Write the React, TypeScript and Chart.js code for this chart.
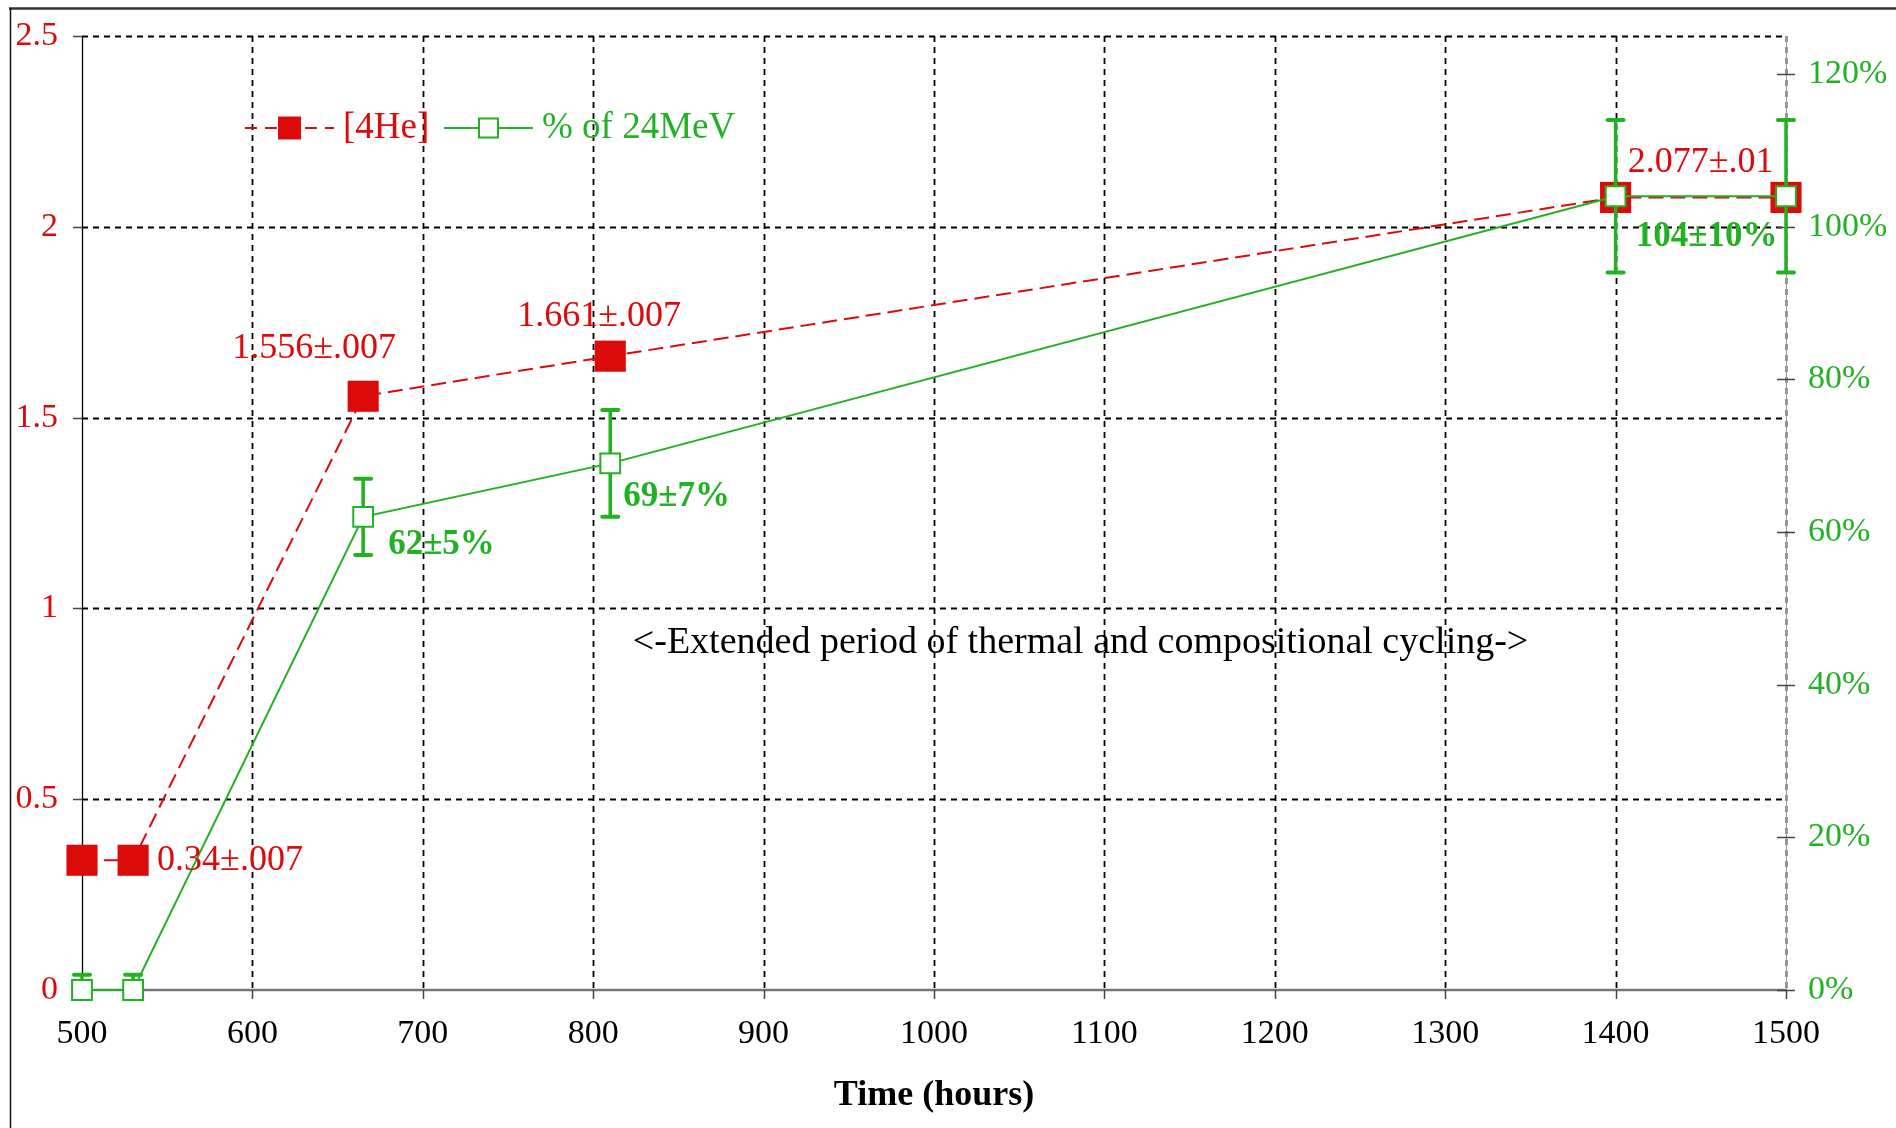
import React, { useEffect, useRef } from "react";
import { Chart, registerables } from "chart.js";

Chart.register(...registerables);

// ---- data ----
const hours = [500, 530, 665, 810, 1400, 1500];
const helium = [0.34, 0.34, 1.556, 1.661, 2.077, 2.077];
const percent24 = [0, 0, 62, 69, 104, 104];
const percentErr = [2, 2, 5, 7, 10, 10];
const heliumLabels = ["", "0.34±.007", "1.556±.007", "1.661±.007", "2.077±.01", ""];
const percentLabels = ["", "", "62±5%", "69±7%", "104±10%", ""];
const noteText = "<-Extended period of thermal and compositional cycling->";
const noteAt = { x: 1086, y: 0.91 };
const legendLabels = ["[4He]", "% of 24MeV"];
const xTitle = "Time (hours)";

// ---- styles ----
const RED = "#dc0a0a";
const GREEN = "#22b122";
const FONT = "'Liberation Serif', 'Times New Roman', serif";

// label offsets (px) relative to their data point
const heliumLabelPos = [
  null,
  { dx: 24, dy: 0, align: "left" },
  { dx: -49, dy: -48, align: "center" },
  { dx: -11, dy: -40, align: "center" },
  { dx: 85, dy: -35, align: "center" },
  null,
];
const percentLabelPos = [
  null,
  null,
  { dx: 25, dy: 28, align: "left" },
  { dx: 13, dy: 34, align: "left" },
  { dx: 91, dy: 41, align: "center" },
  null,
];

const framePlugin = {
  id: "frame",
  beforeDraw(chart: any) {
    const ctx = chart.ctx;
    ctx.save();
    ctx.strokeStyle = "#333";
    ctx.lineWidth = 2.5;
    ctx.beginPath();
    ctx.moveTo(9, 8.5);
    ctx.lineTo(chart.width, 8.5);
    ctx.stroke();
    ctx.strokeStyle = "#111";
    ctx.lineWidth = 1.5;
    ctx.beginPath();
    ctx.moveTo(10.5, 8);
    ctx.lineTo(10.5, chart.height);
    ctx.stroke();
    ctx.restore();
  },
};

const gridPlugin = {
  id: "customGrid",
  beforeDatasetsDraw(chart: any) {
    const { ctx, chartArea: a, scales } = chart;
    const xs = scales.x, ys = scales.y, y1 = scales.y1;
    ctx.save();
    // dashed grid
    ctx.strokeStyle = "#000";
    ctx.lineWidth = 1.8;
    ctx.setLineDash([6, 5]);
    xs.ticks.forEach((t: any) => {
      if (t.value === xs.min) return;
      const px = Math.round(xs.getPixelForValue(t.value)) + 0.5;
      ctx.beginPath();
      ctx.moveTo(px, a.top);
      ctx.lineTo(px, a.bottom);
      ctx.stroke();
    });
    ys.ticks.forEach((t: any) => {
      if (t.value === ys.min) return;
      const py = Math.round(ys.getPixelForValue(t.value)) + 0.5;
      ctx.beginPath();
      ctx.moveTo(a.left, py);
      ctx.lineTo(a.right, py);
      ctx.stroke();
    });
    ctx.setLineDash([]);
    // axis lines
    ctx.strokeStyle = "#000";
    ctx.lineWidth = 1.3;
    ctx.beginPath();
    ctx.moveTo(a.left + 0.5, a.top);
    ctx.lineTo(a.left + 0.5, a.bottom);
    ctx.stroke();
    ctx.strokeStyle = "#999";
    ctx.lineWidth = 1;
    ctx.beginPath();
    ctx.moveTo(a.right + 0.5, a.top);
    ctx.lineTo(a.right + 0.5, a.bottom);
    ctx.stroke();
    ctx.strokeStyle = "#777";
    ctx.lineWidth = 2.5;
    ctx.beginPath();
    ctx.moveTo(a.left, a.bottom);
    ctx.lineTo(a.right, a.bottom);
    ctx.stroke();
    // tick marks
    ctx.strokeStyle = "#444";
    ctx.lineWidth = 1.5;
    ys.ticks.forEach((t: any) => {
      const py = Math.round(ys.getPixelForValue(t.value)) + 0.5;
      ctx.beginPath();
      ctx.moveTo(a.left - 9, py);
      ctx.lineTo(a.left, py);
      ctx.stroke();
    });
    xs.ticks.forEach((t: any) => {
      const px = Math.round(xs.getPixelForValue(t.value)) + 0.5;
      ctx.beginPath();
      ctx.moveTo(px, a.bottom);
      ctx.lineTo(px, a.bottom + 9);
      ctx.stroke();
    });
    y1.ticks.forEach((t: any) => {
      const py = Math.round(y1.getPixelForValue(t.value)) + 0.5;
      ctx.beginPath();
      ctx.moveTo(a.right - 9, py);
      ctx.lineTo(a.right + 9, py);
      ctx.stroke();
    });
    ctx.restore();
  },
  beforeDatasetDraw(chart: any, args: any) {
    if (args.index !== 1) return;
    const { ctx, chartArea: a, scales } = chart;
    const xs = scales.x, y1 = scales.y1;
    ctx.save();
    ctx.beginPath();
    ctx.rect(0, 0, chart.width, a.bottom);
    ctx.clip();
    ctx.strokeStyle = GREEN;
    ctx.lineCap = "round";
    hours.forEach((h, i) => {
      const px = xs.getPixelForValue(h);
      const top = y1.getPixelForValue(percent24[i] + percentErr[i]);
      const bot = y1.getPixelForValue(percent24[i] - percentErr[i]);
      ctx.lineWidth = 3.5;
      ctx.beginPath();
      ctx.moveTo(px, top);
      ctx.lineTo(px, bot);
      ctx.stroke();
      ctx.lineWidth = 4;
      [top, bot].forEach((yy) => {
        ctx.beginPath();
        ctx.moveTo(px - 8, yy);
        ctx.lineTo(px + 8, yy);
        ctx.stroke();
      });
    });
    ctx.restore();
  },
  afterDatasetsDraw(chart: any) {
    const { ctx, scales } = chart;
    const xs = scales.x, ys = scales.y, y1 = scales.y1;
    ctx.save();
    ctx.textBaseline = "middle";
    // red labels
    ctx.font = `36px ${FONT}`;
    ctx.fillStyle = RED;
    heliumLabels.forEach((txt, i) => {
      const p = heliumLabelPos[i];
      if (!txt || !p) return;
      ctx.textAlign = p.align as CanvasTextAlign;
      ctx.fillText(txt, xs.getPixelForValue(hours[i]) + p.dx, ys.getPixelForValue(helium[i]) + p.dy);
    });
    // green labels
    ctx.font = `bold 35px ${FONT}`;
    ctx.fillStyle = GREEN;
    percentLabels.forEach((txt, i) => {
      const p = percentLabelPos[i];
      if (!txt || !p) return;
      ctx.textAlign = p.align as CanvasTextAlign;
      ctx.fillText(txt, xs.getPixelForValue(hours[i]) + p.dx, y1.getPixelForValue(percent24[i]) + p.dy);
    });
    // note
    ctx.font = `38px ${FONT}`;
    ctx.fillStyle = "#000";
    ctx.textAlign = "center";
    ctx.fillText(noteText, xs.getPixelForValue(noteAt.x), ys.getPixelForValue(noteAt.y));

    // legend
    const ly = 128;
    ctx.lineWidth = 2;
    ctx.strokeStyle = RED;
    ctx.setLineDash([12, 8]);
    ctx.beginPath();
    ctx.moveTo(245, ly);
    ctx.lineTo(334, ly);
    ctx.stroke();
    ctx.setLineDash([]);
    ctx.fillStyle = RED;
    ctx.fillRect(278, ly - 11.5, 23, 23);
    ctx.font = `37px ${FONT}`;
    ctx.textAlign = "left";
    ctx.fillText(legendLabels[0], 343, ly);

    ctx.strokeStyle = GREEN;
    ctx.beginPath();
    ctx.moveTo(444, ly);
    ctx.lineTo(533, ly);
    ctx.stroke();
    ctx.fillStyle = "#fff";
    ctx.fillRect(479, ly - 9.5, 19, 19);
    ctx.strokeRect(479, ly - 9.5, 19, 19);
    ctx.fillStyle = GREEN;
    ctx.fillText(legendLabels[1], 542, ly);
    ctx.restore();
  },
};

export default function App() {
  const ref = useRef<HTMLCanvasElement>(null);
  useEffect(() => {
    if (!ref.current) return;
    const chart = new Chart(ref.current, {
      type: "line",
      data: {
        datasets: [
          {
            label: legendLabels[0],
            data: hours.map((x, i) => ({ x, y: helium[i] })),
            yAxisID: "y",
            borderColor: RED,
            borderWidth: 2,
            borderDash: [15, 7],
            pointStyle: "rect",
            pointRadius: 22,
            pointHoverRadius: 22,
            pointBackgroundColor: RED,
            pointBorderColor: RED,
            pointBorderWidth: 0,
            order: 2,
            clip: false,
          },
          {
            label: legendLabels[1],
            data: hours.map((x, i) => ({ x, y: percent24[i] })),
            yAxisID: "y1",
            borderColor: GREEN,
            borderWidth: 2,
            pointStyle: "rect",
            pointRadius: 14,
            pointHoverRadius: 14,
            pointBackgroundColor: "#fff",
            pointBorderColor: GREEN,
            pointBorderWidth: 2,
            order: 1,
            clip: false,
          },
        ] as any,
      },
      options: {
        animation: false,
        responsive: false,
        devicePixelRatio: 1,
        events: [],
        layout: { padding: { top: 36, left: 0, right: 0, bottom: 0 } },
        plugins: { legend: { display: false }, tooltip: { enabled: false } },
        scales: {
          x: {
            type: "linear",
            min: 500,
            max: 1500,
            ticks: {
              stepSize: 100,
              color: "#000",
              font: { family: FONT, size: 34 },
              padding: 24,
              maxRotation: 0,
              autoSkip: false,
              callback: (v: any) => String(v),
            },
            grid: { display: false, drawTicks: false },
            border: { display: false },
            title: {
              display: true,
              text: xTitle,
              color: "#000",
              font: { family: FONT, size: 36, weight: "bold" },
              padding: { top: 0, bottom: 11 },
            },
            afterFit: (s: any) => {
              s.height = 138;
              s.paddingLeft = 0;
              s.paddingRight = 0;
            },
          },
          y: {
            type: "linear",
            position: "left",
            min: 0,
            max: 2.5,
            ticks: {
              stepSize: 0.5,
              color: RED,
              font: { family: FONT, size: 34 },
              padding: 24,
              callback: (v: any) => String(v),
            },
            grid: { display: false, drawTicks: false },
            border: { display: false },
            afterFit: (s: any) => {
              s.width = 82;
              s.paddingTop = 0;
              s.paddingBottom = 0;
            },
          },
          y1: {
            type: "linear",
            position: "right",
            min: 0,
            max: 125,
            ticks: {
              stepSize: 20,
              includeBounds: false,
              color: GREEN,
              font: { family: FONT, size: 34 },
              padding: 22,
              callback: (v: any) => `${v}%`,
            },
            grid: { display: false, drawTicks: false },
            border: { display: false },
            afterFit: (s: any) => {
              s.width = 110;
              s.paddingTop = 0;
              s.paddingBottom = 0;
            },
          },
        },
      } as any,
      plugins: [framePlugin, gridPlugin],
    });
    return () => chart.destroy();
  }, []);
  return (
    <div style={{ position: "absolute", left: 0, top: 0, width: 1896, height: 1128, background: "#fff" }}>
      <canvas ref={ref} width={1896} height={1128} />
    </div>
  );
}
